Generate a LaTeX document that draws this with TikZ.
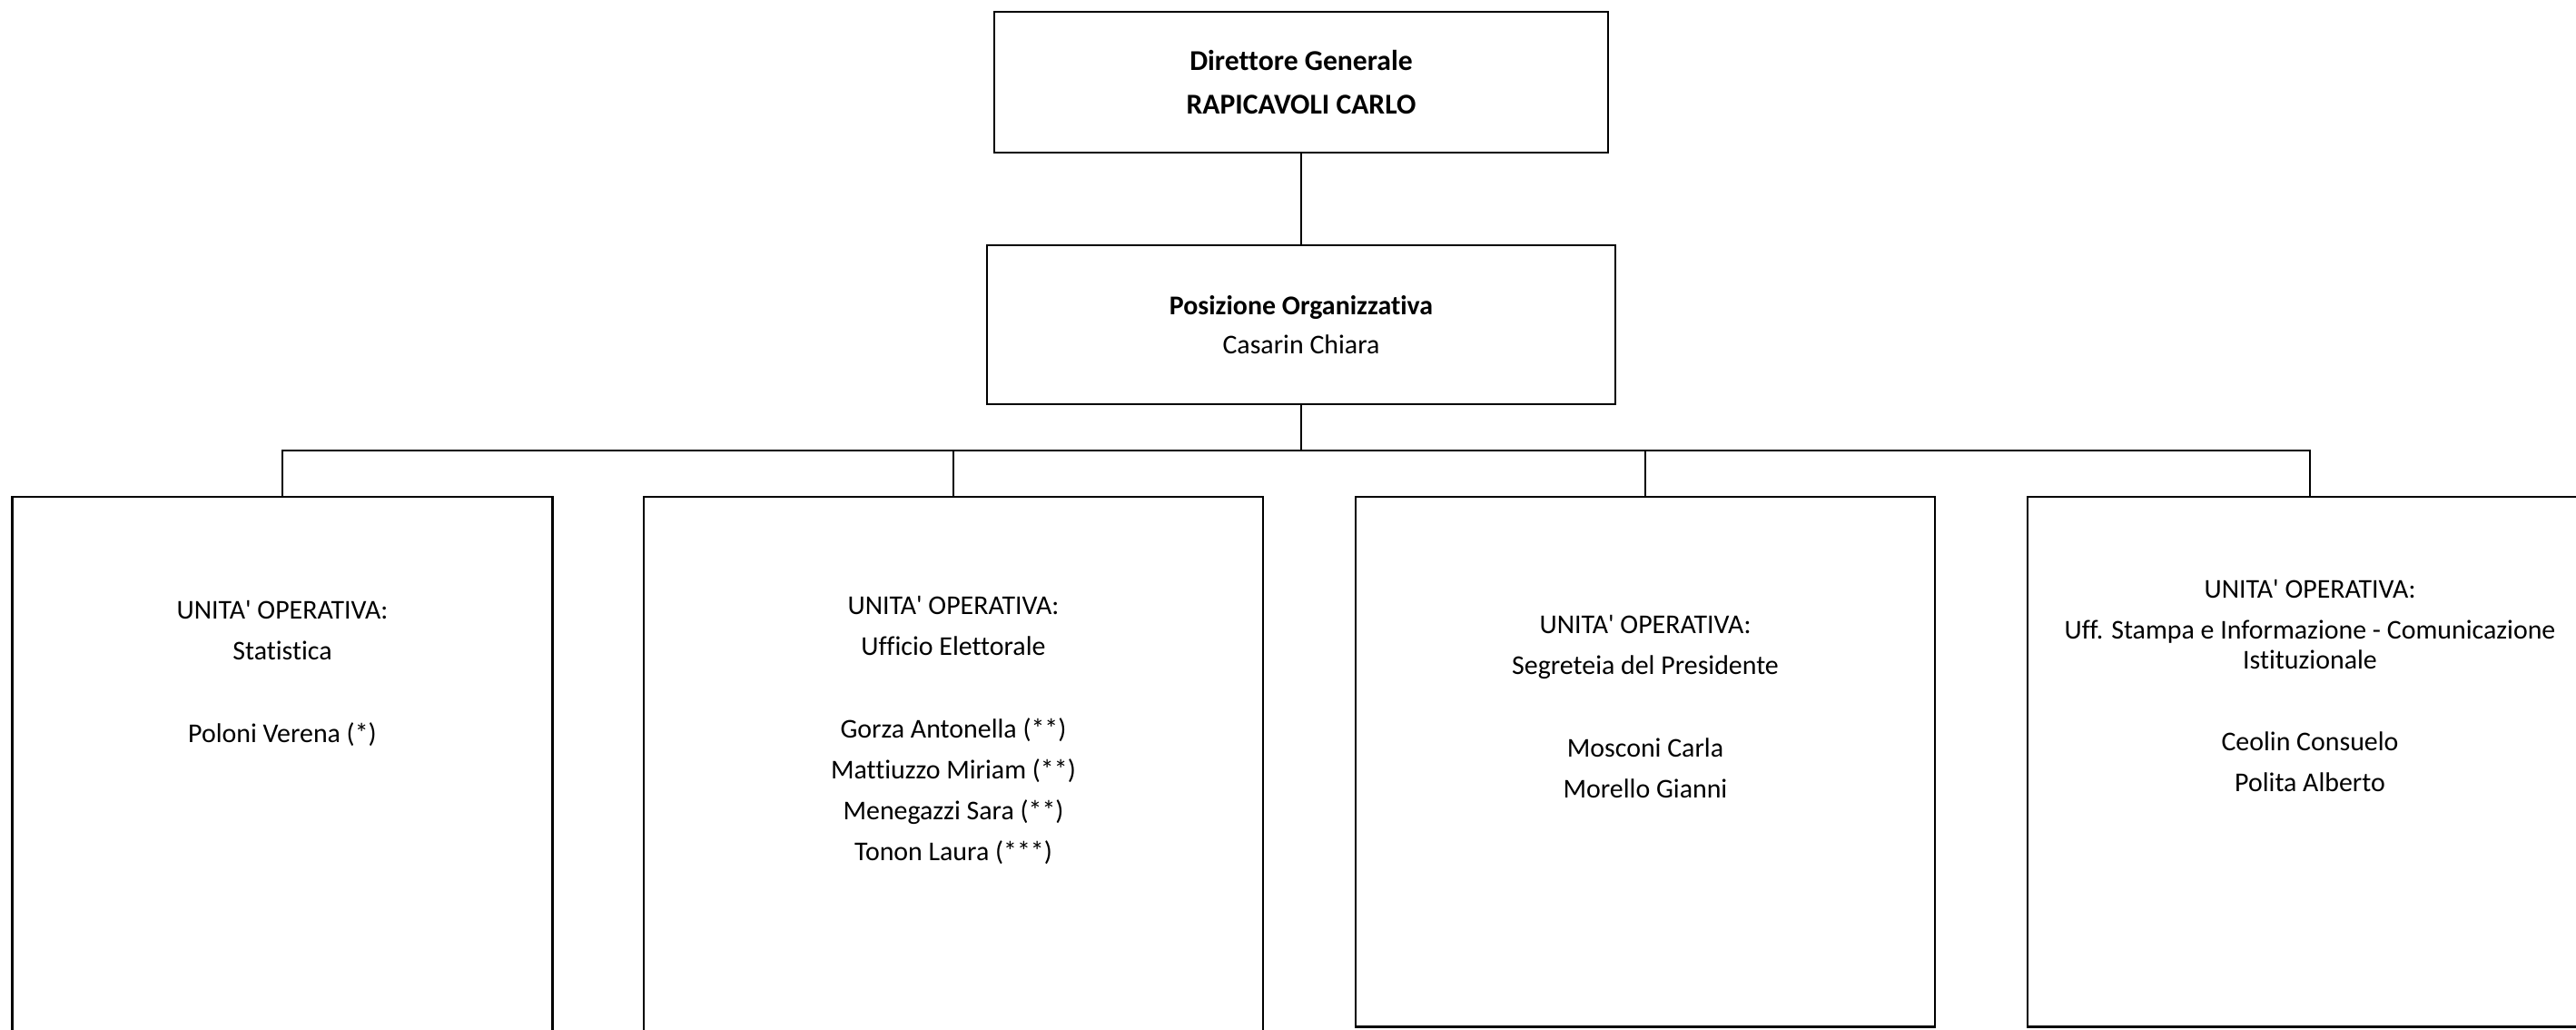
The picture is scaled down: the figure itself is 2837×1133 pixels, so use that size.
\documentclass[tikz,border=0pt]{standalone}
\usepackage{fontspec}
\setmainfont{Carlito}[Ligatures={TeXOff,NoCommon}]
\usetikzlibrary{positioning}

\begin{document}
\begin{tikzpicture}[x=0.01cm,y=-0.01cm,
  box/.style={draw=black, line width=0.7pt, inner sep=0pt, align=center},
  unit/.style={box, anchor=north, minimum height=5.83cm},
  utext/.style={align=center, inner sep=0pt, font=\fontsize{8.5}{12.8}\selectfont},
  link/.style={draw=black, line width=0.7pt}]
\useasboundingbox (0,0) rectangle (2837,1133);

\node[box, minimum width=6.76cm, minimum height=1.55cm,
  font=\bfseries\fontsize{9}{13.9}\selectfont] (dg) at (1433,90.5)
  {Direttore Generale\\RAPICAVOLI CARLO};
\node[box, minimum width=6.92cm, minimum height=1.75cm,
  font=\fontsize{8.5}{12.2}\selectfont] (po) at (1433,357.5)
  {\textbf{Posizione Organizzativa}\\Casarin Chiara};

\node[unit, minimum width=5.95cm, minimum height=6.5cm] (uo1) at (311,546) {};
\node[unit, minimum width=6.82cm, minimum height=6.5cm] (uo2) at (1050,546) {};
\node[unit, minimum width=6.38cm] (uo3) at (1812,546) {};
\node[unit, minimum width=6.22cm] (uo4) at (2544,546) {};

\node[utext, below=1.15cm of uo1.north] (t1)
  {UNITA' OPERATIVA:\\Statistica\\[12.8pt]Poloni Verena (*)};
\node[utext, below=1.10cm of uo2.north] (t2)
  {UNITA' OPERATIVA:\\Ufficio Elettorale\\[12.8pt]Gorza Antonella (**)\\
   Mattiuzzo Miriam (**)\\Menegazzi Sara (**)\\Tonon Laura (***)};
\node[utext, below=1.31cm of uo3.north] (t3)
  {UNITA' OPERATIVA:\\Segreteia del Presidente\\[12.8pt]Mosconi Carla\\Morello Gianni};
\node[utext, below=0.92cm of uo4.north] (t4)
  {UNITA' OPERATIVA:\\Uff. Stampa e Informazione - Comunicazione\\[-3.6pt]
   Istituzionale\\[12.8pt]Ceolin Consuelo\\Polita Alberto};

\coordinate (bus) at (1433,496);
\draw[link] (dg.south) -- (po.north);
\draw[link] (po.south) -- (bus);
\foreach \u in {uo1,uo2,uo3,uo4}
  \draw[link] (bus) -| (\u.north);
\end{tikzpicture}
\end{document}
